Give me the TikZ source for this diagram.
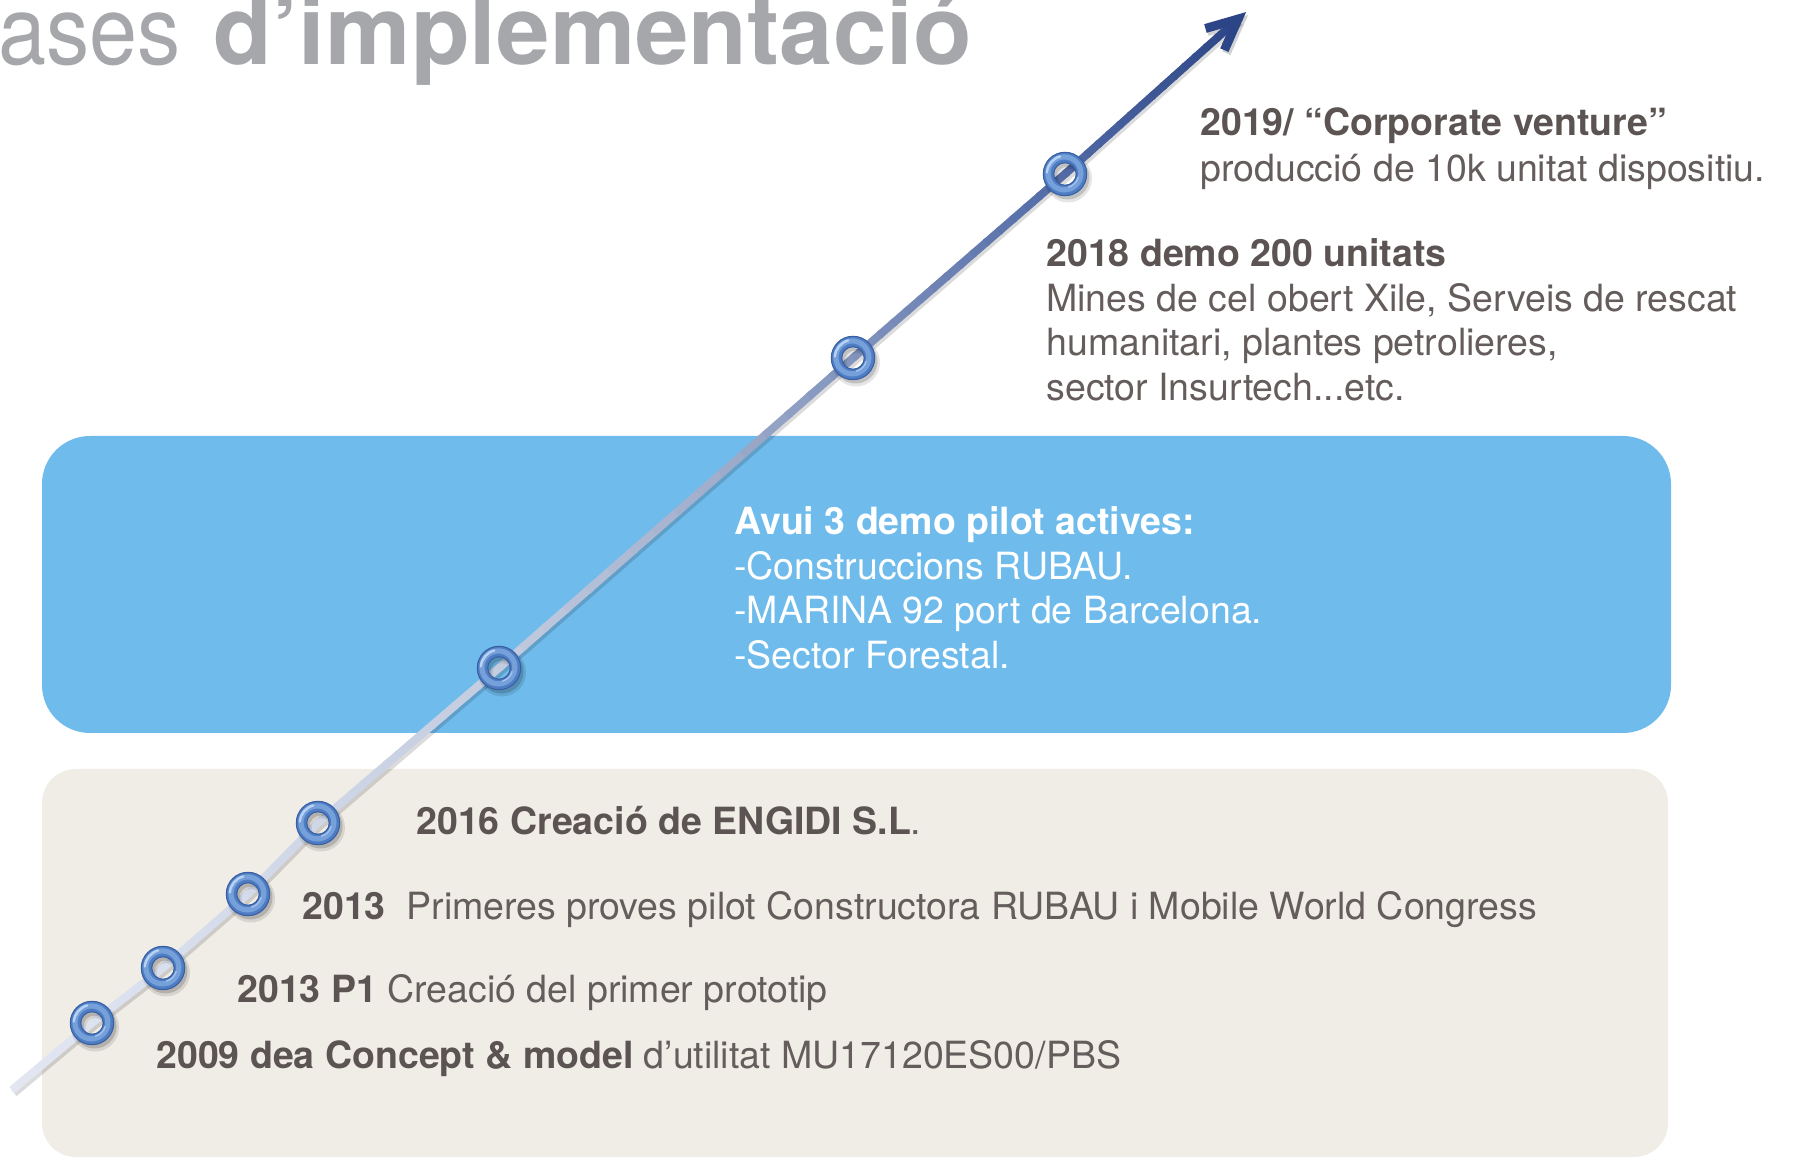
\documentclass[tikz,border=0pt]{standalone}
\usepackage{fontspec}
\setmainfont{TeX Gyre Heros}
\usetikzlibrary{calc}
\definecolor{boxblue}{HTML}{6EBBEC}
\definecolor{beige}{HTML}{F0EDE7}
\definecolor{tc}{HTML}{5B5453}
\definecolor{tcl}{HTML}{645D5C}
\definecolor{titlec}{HTML}{A6A7AB}
\definecolor{c0}{HTML}{E2E7F2}
\definecolor{c1}{HTML}{C3CCE0}
\definecolor{c2}{HTML}{9AA8C8}
\definecolor{c3}{HTML}{5B73AC}
\definecolor{c4}{HTML}{2C4586}
\definecolor{ringbase}{HTML}{4F7DC3}
\definecolor{ringmid}{HTML}{76A0DA}
\definecolor{ringhi}{HTML}{B8D2F4}
\definecolor{ringrim}{HTML}{395FA3}
\newcommand\mygradcol[1]{%
  \pgfmathsetmacro\gt{#1}%
  \ifdim\gt pt<0.4pt
    \pgfmathsetmacro\pc{100*\gt/0.4}\colorlet{segc}{c1!\pc!c0}%
  \else\ifdim\gt pt<0.6pt
    \pgfmathsetmacro\pc{100*(\gt-0.4)/0.2}\colorlet{segc}{c2!\pc!c1}%
  \else\ifdim\gt pt<0.82pt
    \pgfmathsetmacro\pc{100*(\gt-0.6)/0.22}\colorlet{segc}{c3!\pc!c2}%
  \else
    \pgfmathsetmacro\pc{min(100,100*(\gt-0.82)/0.18)}\colorlet{segc}{c4!\pc!c3}%
  \fi\fi\fi}
\begin{document}
\begin{tikzpicture}[x=0.5pt,y=0.5pt,
  txt/.style={font=\fontsize{18.75}{22.4}\selectfont, text=tcl, inner sep=0pt, anchor=base west},
  hd/.style={txt, text=tc, font=\fontsize{18.75}{22.4}\selectfont\bfseries},
  wtxt/.style={txt, text=white},
  whd/.style={hd, text=white},
  titletxt/.style={font=\fontsize{48}{56}\selectfont, text=titlec, inner sep=0pt, anchor=base west}]
\useasboundingbox (0,0) rectangle (1796,1158);
\clip (0,0) rectangle (1796,1158);

% background panels
\fill[beige, rounded corners=17pt] (42,1) rectangle (1668,389);
\fill[boxblue, rounded corners=24pt] (42,425) rectangle (1671,722);

% title
\node[titletxt] (ttl) at (-2,1093) {\scalebox{0.9}[1]{ases}\hspace{3pt} \textbf{d’implementació}};

% timeline geometry (ring centres are the milestones)
\coordinate (ls) at (12,68);
\coordinate (r1) at (92,135);
\coordinate (r2) at (163,190);
\coordinate (r3) at (248,264);
\coordinate (r4) at (318,335);
\coordinate (r5) at (499,490);
\coordinate (r6) at (853,800);
\coordinate (r7) at (1065,984);
\coordinate (tip) at (1246,1146);
\coordinate (lv) at ($(tip)!5.3pt!(r7)$);
\coordinate (bl) at ($(lv)+(196.1:34)$);
\coordinate (br) at ($(lv)+(246.1:34)$);

% shadow of line and arrow
\draw[black, opacity=.14, line width=4pt, line join=round]
  ([shift={(2,-3)}]ls) -- ([shift={(2,-3)}]r1) -- ([shift={(2,-3)}]r2) -- ([shift={(2,-3)}]r3)
  -- ([shift={(2,-3)}]r4) -- ([shift={(2,-3)}]r5) -- ([shift={(2,-3)}]r6) -- ([shift={(2,-3)}]r7) -- ([shift={(2,-3)}]lv);
\draw[black, opacity=.18, line width=4.5pt, line join=miter] ([shift={(2,-3)}]bl) -- ([shift={(2,-3)}]lv) -- ([shift={(2,-3)}]br);

% gradient line
\foreach \pa/\pb/\ta/\tb in {ls/r1/0/0.0641, r1/r2/0.0641/0.1192, r2/r3/0.1192/0.1884,
    r3/r4/0.1884/0.2497, r4/r5/0.2497/0.3960, r5/r6/0.3960/0.6850, r6/r7/0.6850/0.8574, r7/lv/0.8574/1}{
  \foreach \k in {1,...,16}{
    \pgfmathsetmacro\sa{(\k-1)/16}
    \pgfmathsetmacro\sb{\k/16+0.01}
    \mygradcol{\ta+(\tb-\ta)*(\k-0.5)/16}
    \draw[segc, line width=4pt] ($(\pa)!\sa!(\pb)$) -- ($(\pa)!\sb!(\pb)$);
  }
}
% arrow head
\draw[c4, line width=4.5pt, line join=miter] (bl) -- (lv) -- (br);

% rings
\foreach \i in {1,...,7}{
  \fill[black, opacity=.10, even odd rule] ([shift={(3,-4.5)}]r\i) circle[radius=24] circle[radius=9.5];
  \fill[black, opacity=.16, even odd rule] ([shift={(2.5,-3.5)}]r\i) circle[radius=22] circle[radius=11];
  \fill[ringbase, even odd rule] (r\i) circle[radius=22] circle[radius=11];
  \draw[ringmid, line width=2.6pt] ([shift={(-0.6,0.6)}]r\i) circle[radius=16.5];
  \draw[ringhi, line width=1.2pt, line cap=round] (r\i) ++(105:18.2) arc[start angle=105, end angle=175, radius=18.2];
  \draw[ringhi, line width=0.8pt, line cap=round, opacity=.7] (r\i) ++(285:13.5) arc[start angle=285, end angle=345, radius=13.5];
  \draw[ringrim, line width=0.5pt] (r\i) circle[radius=21.7];
  \draw[ringrim, line width=0.5pt] (r\i) circle[radius=11.3];
}

% texts top right
\node[hd] (h19) at (1200,1022) {2019/ “Corporate venture”};
\node[txt] (p19) at (1200,976) {producció de 10k unitat dispositiu.};
\node[hd] (h18) at (1046,891) {2018 demo 200 unitats};
\node[txt] (m1) at (1046,846) {Mines de cel obert Xile, Serveis de rescat};
\node[txt] (m2) at (1046,802) {humanitari, plantes petrolieres,};
\node[txt] (m3) at (1046,757) {sector Insurtech...etc.};

% blue box texts
\node[whd] (av) at (734,623) {Avui 3 demo pilot actives:};
\node[wtxt] (a1) at (734,578) {-Construccions RUBAU.};
\node[wtxt] (a2) at (734,534) {-MARINA 92 port de Barcelona.};
\node[wtxt] (a3) at (734,489) {-Sector Forestal.};

% beige box texts
\node[txt] (e16) at (416,323) {\textcolor{tc}{\bfseries 2016 Creació de ENGIDI S.L}.};
\node[txt] (e13) at (302,238) {\textcolor{tc}{\bfseries 2013}\ \ Primeres proves pilot Constructora RUBAU i Mobile World Congress};
\node[txt] (e13p) at (237,155) {\textcolor{tc}{\bfseries 2013 P1} Creació del primer prototip};
\node[txt] (e09) at (156,89) {\textcolor{tc}{\bfseries 2009 dea Concept \& model} d’utilitat MU17120ES00/PBS};
\end{tikzpicture}
\end{document}
